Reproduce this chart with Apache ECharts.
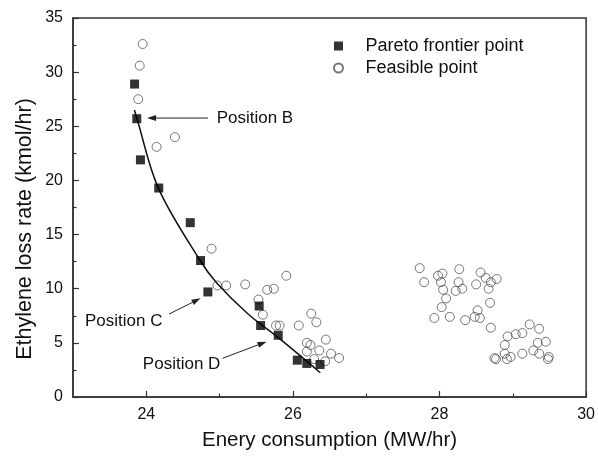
<!DOCTYPE html>
<html>
<head>
<meta charset="utf-8">
<script src="https://cdn.jsdelivr.net/npm/echarts@6/dist/echarts.min.js"></script>
<style>
html,body{margin:0;padding:0;background:#fff;}
#c{width:598px;height:457px;}
</style>
</head>
<body>
<div id="c"></div>
<script>
// ---- data ----
const xRange = [23, 30];
const yRange = [0, 35];
const xTickLabels = [24, 26, 28, 30];
const xMinorTicks = [25, 27, 29];
const paretoPoints = [
  [23.84, 28.9], [23.87, 25.7], [23.92, 21.9], [24.17, 19.3], [24.60, 16.1],
  [24.74, 12.6], [24.84, 9.7], [25.54, 8.4], [25.56, 6.6], [25.80, 5.7],
  [26.06, 3.4], [26.19, 3.1], [26.37, 3.0]
];
const feasiblePoints = [
  [23.95, 32.6], [23.91, 30.6], [23.89, 27.5], [24.39, 24.0], [24.14, 23.1],
  [24.89, 13.7], [24.97, 10.3], [25.09, 10.3], [25.35, 10.4], [25.65, 9.9],
  [25.74, 10.0], [25.91, 11.2], [25.53, 9.0], [25.59, 7.6], [25.77, 6.6],
  [25.82, 6.6], [26.08, 6.6], [26.25, 7.7], [26.32, 6.9], [26.45, 5.3],
  [26.19, 5.0], [26.24, 4.8], [26.36, 4.3], [26.19, 4.2], [26.52, 4.0],
  [26.63, 3.6], [26.29, 3.5], [26.44, 3.3],
  [27.73, 11.9], [27.79, 10.6], [27.98, 11.2], [28.04, 11.4], [28.02, 10.6],
  [28.05, 9.9], [28.09, 9.1], [28.03, 8.3], [27.93, 7.3], [28.14, 7.4],
  [28.27, 11.8], [28.26, 10.6], [28.22, 9.8], [28.31, 10.0], [28.35, 7.1],
  [28.50, 10.4], [28.56, 11.5], [28.63, 11.0], [28.70, 10.6], [28.78, 10.9],
  [28.67, 10.0], [28.69, 8.7], [28.52, 8.0], [28.48, 7.4], [28.55, 7.3],
  [28.70, 6.4],
  [28.75, 3.6], [28.77, 3.5], [28.93, 5.6], [28.89, 4.8], [29.04, 5.8],
  [29.13, 5.9], [29.23, 6.7], [29.36, 6.3], [28.89, 4.0], [28.92, 3.5],
  [28.97, 3.7], [29.13, 4.0], [29.28, 4.3], [29.34, 5.0], [29.45, 5.1],
  [29.36, 4.0], [29.49, 3.7], [29.48, 3.5]
];
const fitCurve = [
  [23.838, 26.5], [23.874, 25.67], [24.166, 19.27], [24.739, 12.56],
  [24.964, 10.5], [25.392, 7.64], [25.797, 5.5], [26.374, 2.24]
];
const annoLabels = ['Position B', 'Position C', 'Position D'];
const annoTextAt = [[24.96, 25.76], [24.22, 7.0], [25.01, 3.0]];
const annoAlign = ['left', 'right', 'right'];
const annoArrowFrom = [[24.84, 25.76], [24.31, 7.66], [25.04, 3.57]];
const annoArrowTo = [[24.01, 25.76], [24.74, 9.11], [25.64, 5.11]];

const FONT = '"Liberation Sans", Arial, Helvetica, sans-serif';
const chart = echarts.init(document.getElementById('c'), null, {renderer: 'canvas'});

const option = {
  animation: false,
  backgroundColor: '#fff',
  textStyle: {fontFamily: FONT},
  grid: {left: 73, right: 8, top: 18, bottom: 60, show: true, borderColor: '#333', borderWidth: 1.5},
  legend: {
    orient: 'vertical', left: 328, top: 32, itemWidth: 44, itemHeight: 9, itemGap: 4,
    data: [
      {name: 'Pareto frontier point', icon: 'path://M0,0L10,0L10,10L0,10Z'},
      {name: 'Feasible point', icon: 'path://M5,0A5,5,0,1,1,5,10A5,5,0,1,1,5,0Z'}
    ],
    textStyle: {fontFamily: FONT, fontSize: 18, color: '#111', lineHeight: 18},
    selectedMode: false
  },
  xAxis: [{
    type: 'value', min: xRange[0], max: xRange[1], interval: 1, position: 'bottom',
    name: 'Enery consumption (MW/hr)', nameLocation: 'middle', nameGap: 33,
    nameTextStyle: {fontFamily: FONT, fontSize: 20.5, color: '#111'},
    axisLine: {show: true, onZero: false, lineStyle: {color: '#333', width: 1.5}},
    axisTick: {show: true, inside: true, length: 6, customValues: xTickLabels, lineStyle: {color: '#333', width: 1.2}},
    axisLabel: {show: true, customValues: xTickLabels, margin: 10, fontFamily: FONT, fontSize: 16, color: '#111'},
    splitLine: {show: false}
  }, {
    type: 'value', min: xRange[0], max: xRange[1], interval: 1, position: 'bottom',
    axisLine: {show: false, onZero: false},
    axisTick: {show: true, inside: true, length: 3.5, customValues: xMinorTicks, lineStyle: {color: '#333', width: 1.2}},
    axisLabel: {show: false},
    splitLine: {show: false}
  }],
  yAxis: [{
    type: 'value', min: yRange[0], max: yRange[1], interval: 5, position: 'left',
    axisLine: {show: true, onZero: false, lineStyle: {color: '#333', width: 1.5}},
    axisTick: {show: true, inside: true, length: 6, lineStyle: {color: '#333', width: 1.2}},
    minorTick: {show: true, splitNumber: 2, length: 3.5, lineStyle: {color: '#333', width: 1.2}},
    axisLabel: {margin: 10, fontFamily: FONT, fontSize: 16, color: '#111'},
    splitLine: {show: false}
  }],
  series: [
    {
      name: 'Feasible point', type: 'scatter', data: feasiblePoints,
      symbol: 'circle', symbolSize: 9, z: 2,
      itemStyle: {color: 'rgba(255,255,255,0)', borderColor: '#555', borderWidth: 1}
    },
    {
      name: 'Fit', type: 'line', data: fitCurve, smooth: 0.35, symbol: 'none', z: 3,
      lineStyle: {color: '#111', width: 1.5}
    },
    {
      name: 'Pareto frontier point', type: 'scatter', data: paretoPoints,
      symbol: 'rect', symbolSize: 9, z: 4,
      itemStyle: {color: '#000'}
    }
  ]
};
chart.setOption(option);

function px(p) { return chart.convertToPixel({seriesIndex: 0}, p); }
const graphics = [];
graphics.push({
  type: 'text', x: 25, y: 229, rotation: Math.PI / 2,
  style: {text: 'Ethylene loss rate (kmol/hr)', font: '21.5px ' + FONT, fill: '#111', align: 'center', verticalAlign: 'middle'}
});
for (let i = 0; i < annoLabels.length; i++) {
  const t = px(annoTextAt[i]);
  graphics.push({
    type: 'text', x: t[0], y: t[1],
    style: {text: annoLabels[i], font: '17px ' + FONT, fill: '#111', align: annoAlign[i], verticalAlign: 'middle'}
  });
  const a = px(annoArrowFrom[i]), b = px(annoArrowTo[i]);
  const dx = b[0] - a[0], dy = b[1] - a[1];
  const L = Math.sqrt(dx * dx + dy * dy), ux = dx / L, uy = dy / L;
  const hl = 9, hw = 3;
  const bx = b[0] - ux * hl, by = b[1] - uy * hl;
  graphics.push({type: 'line', shape: {x1: a[0], y1: a[1], x2: bx, y2: by}, style: {stroke: '#222', lineWidth: 1}});
  graphics.push({type: 'polygon', shape: {points: [[b[0], b[1]], [bx - uy * hw, by + ux * hw], [bx + uy * hw, by - ux * hw]]}, style: {fill: '#222'}});
}
chart.setOption({graphic: graphics});
</script>
</body>
</html>
